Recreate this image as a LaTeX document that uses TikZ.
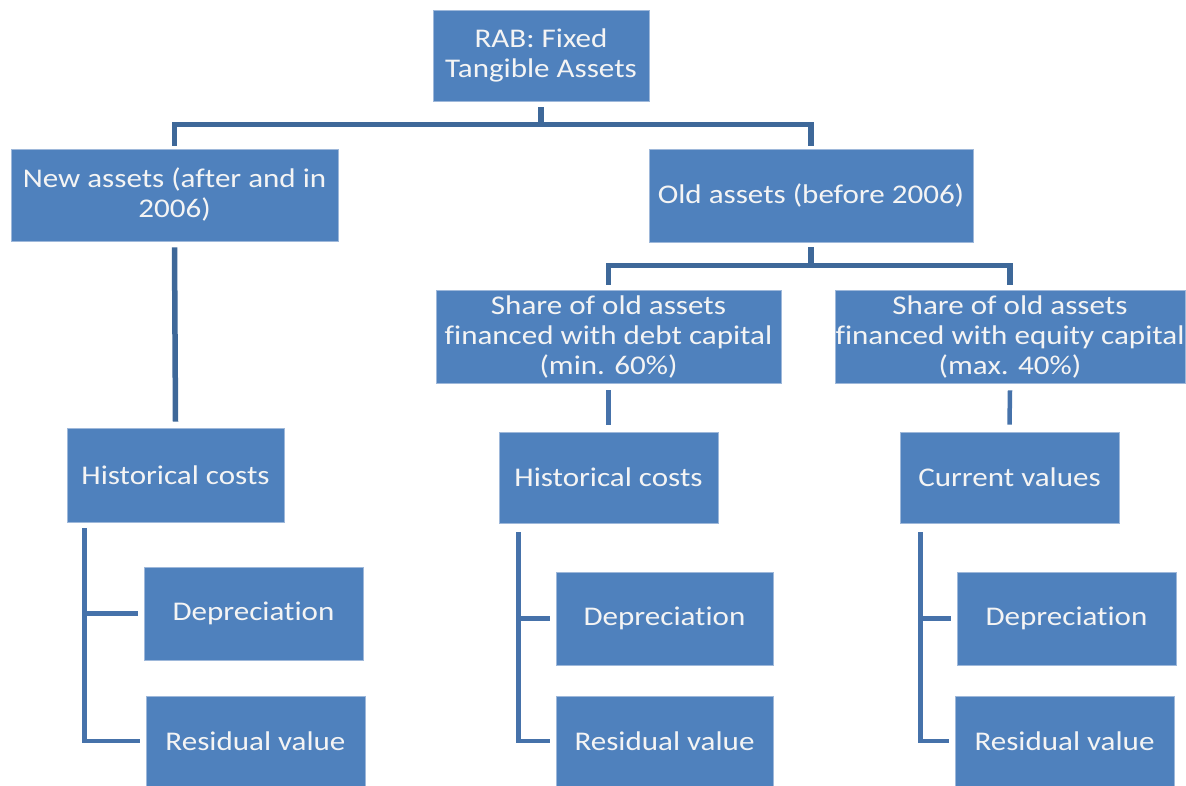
\documentclass[tikz,border=0pt]{standalone}
\usepackage{fontspec}
\setmainfont{Carlito}[FakeStretch=1.15, Ligatures=NoCommon]
\definecolor{boxfill}{HTML}{4F81BD}
\definecolor{boxline}{HTML}{9EB8DA}
\definecolor{connA}{HTML}{3E6899}
\definecolor{connB}{HTML}{4672AA}
\definecolor{txt}{HTML}{F4F4F4}
\begin{document}
\begin{tikzpicture}[x=1pt,y=-1pt,
  box/.style={draw=boxline, line width=0.8pt, fill=boxfill, text=txt, align=center,
    inner sep=0pt, font=\fontsize{27}{30}\selectfont},
  conn/.style={draw=connA, line width=5.5pt},
  connl/.style={draw=connB, line width=4.5pt}]
\useasboundingbox (0,0) rectangle (1186,786);
\clip (0,0) rectangle (1186,786);
\fill[white] (0,0) rectangle (1186,786);
% nodes
\node[box, minimum width=216pt, minimum height=91pt] (rab) at (541,55.5) {RAB: Fixed\\Tangible Assets};
\node[box, minimum width=327pt, minimum height=92pt] (newa) at (174.5,195) {New assets (after and in\\2006)};
\node[box, minimum width=324pt, minimum height=93pt] (olda) at (811,195.5) {Old assets (before 2006)};
\node[box, minimum width=345pt, minimum height=93pt] (debt) at (608.5,336.5) {Share of old assets\\financed with debt capital\\(min. 60\%)};
\node[box, minimum width=350pt, minimum height=93pt] (eq) at (1010,336.5) {Share of old assets\\financed with equity capital\\(max. 40\%)};
\node[box, minimum width=217pt, minimum height=94pt] (hc1) at (175.5,475) {Historical costs};
\node[box, minimum width=219pt, minimum height=91pt] (hc2) at (608.5,477.5) {Historical costs};
\node[box, minimum width=219pt, minimum height=91pt] (cv) at (1009.5,477.5) {Current values};
\node[box, minimum width=219pt, minimum height=93pt] (dep1) at (253.5,613.5) {Depreciation};
\node[box, minimum width=219pt, minimum height=90pt] (res1) at (255.5,741) {Residual value};
\node[box, minimum width=217pt, minimum height=93pt] (dep2) at (664.5,618.5) {Depreciation};
\node[box, minimum width=217pt, minimum height=90pt] (res2) at (664.5,741) {Residual value};
\node[box, minimum width=219pt, minimum height=93pt] (dep3) at (1066.5,618.5) {Depreciation};
\node[box, minimum width=219pt, minimum height=90pt] (res3) at (1064.5,741) {Residual value};
% top level connectors
\draw[conn] ([yshift=-6pt]rab.south) -- ++(0,-18pt);
\draw[conn] ([yshift=3pt]newa.north) -- ++(0,21pt) -| ([yshift=3pt]olda.north);
\draw[conn] ([yshift=-6pt]newa.south) -- ([yshift=6pt]hc1.north);
\draw[conn] ([yshift=-5pt]olda.south) -- ++(0,-19pt);
\draw[conn] ([yshift=5pt]debt.north) -- ++(0,19pt) -| ([yshift=5pt]eq.north);
\draw[connl] ([yshift=-7pt]debt.south) -- ([yshift=7pt]hc2.north);
\draw[connl] ([yshift=-7pt]eq.south) -- ([yshift=7pt]cv.north);
% elbow connectors
\coordinate (e1) at ([xshift=18pt,yshift=-6pt]hc1.south west);
\coordinate (e2) at ([xshift=20pt,yshift=-9pt]hc2.south west);
\coordinate (e3) at ([xshift=21pt,yshift=-9pt]cv.south west);
\draw[connl] (e1) |- ([xshift=-6pt]res1.west);
\draw[connl] (dep1.west -| e1) -- ([xshift=-6pt]dep1.west);
\draw[connl] (e2) |- ([xshift=-6pt]res2.west);
\draw[connl] (dep2.west -| e2) -- ([xshift=-6pt]dep2.west);
\draw[connl] (e3) |- ([xshift=-6pt]res3.west);
\draw[connl] (dep3.west -| e3) -- ([xshift=-6pt]dep3.west);
\end{tikzpicture}
\end{document}
